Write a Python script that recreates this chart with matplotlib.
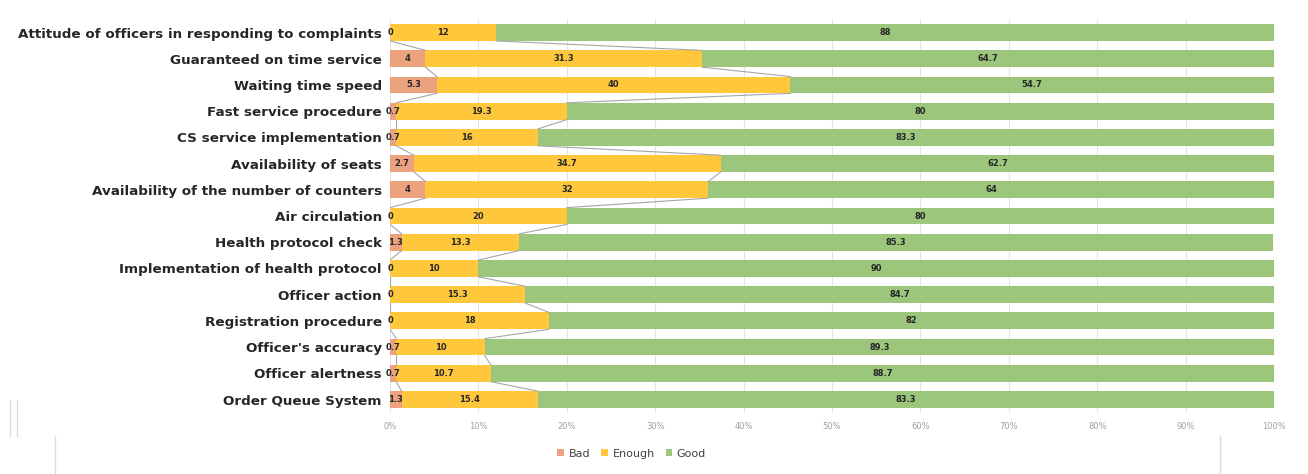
import numpy as np
import matplotlib
matplotlib.use('Agg')
import matplotlib.pyplot as plt
from matplotlib.lines import Line2D

items = [
    'Attitude of officers in responding to complaints',
    'Guaranteed on time service',
    'Waiting time speed',
    'Fast service procedure',
    'CS service implementation',
    'Availability of seats',
    'Availability of the number of counters',
    'Air circulation',
    'Health protocol check',
    'Implementation of health protocol',
    'Officer action',
    'Registration procedure',
    "Officer's accuracy",
    'Officer alertness',
    'Order Queue System',
]
bad = [0, 4, 5.3, 0.7, 0.7, 2.7, 4, 0, 1.3, 0, 0, 0, 0.7, 0.7, 1.3]
enough = [12, 31.3, 40, 19.3, 16, 34.7, 32, 20, 13.3, 10, 15.3, 18, 10, 10.7, 15.4]
good = [88, 64.7, 54.7, 80, 83.3, 62.7, 64, 80, 85.3, 90, 84.7, 82, 89.3, 88.7, 83.3]

series = ['Bad', 'Enough', 'Good']
colors = ['#EDA27F', '#FFC83C', '#9CC67B']

fig = plt.figure(figsize=(13.08, 4.74), dpi=100)
ax = fig.add_axes([0.2982, 0.1295, 0.6758, 0.8295])

y = np.arange(len(items))
h = 0.64
data = np.array([bad, enough, good])
left = np.zeros(len(items))
for vals, name, c in zip(data, series, colors):
    ax.barh(y, vals, left=left, height=h, color=c, label=name, zorder=2)
    for yi, (l, v) in enumerate(zip(left, vals)):
        ax.text(l + v / 2, yi, '{:g}'.format(v), ha='center', va='center',
                fontsize=6, fontweight='bold', color='#262626', zorder=4)
    left = left + vals

# series lines joining the segment ends of neighbouring bars
cum = np.cumsum(data, axis=0)
for k in range(2):
    for i in range(len(items) - 1):
        ax.plot([cum[k, i], cum[k, i + 1]], [i + h / 2, i + 1 - h / 2],
                color='#A6A6A6', lw=0.8, zorder=3)

ax.set_xlim(0, 100)
ax.set_ylim(len(items) - 0.5, -0.5)
ax.set_xticks(np.arange(0, 101, 10))
ax.set_xticklabels(['{}%'.format(t) for t in range(0, 101, 10)])
ax.set_yticks(y)
ax.set_yticklabels(items, fontsize=9.7, fontweight='bold', color='#262626')
ax.tick_params(axis='x', labelsize=6, colors='#A0A0A0', length=0, pad=7)
ax.tick_params(axis='y', length=0, pad=6)
ax.grid(axis='x', color='#E3E3E3', lw=0.8, zorder=0)
for s in ax.spines.values():
    s.set_visible(False)

ax.legend(loc='center', bbox_to_anchor=(0.483, 0.043), bbox_transform=fig.transFigure,
          ncol=3, frameon=False, fontsize=8, handlelength=0.6, handleheight=0.6,
          handletextpad=0.4, columnspacing=1.0, labelcolor='#404040')

# faint chart frame edges
for x0, y0, y1 in [(0.008, 0.08, 0.156), (0.013, 0.08, 0.156), (0.042, 0.0, 0.08), (0.933, 0.0, 0.08)]:
    fig.add_artist(Line2D([x0, x0], [y0, y1], transform=fig.transFigure, color='#DDDDDD', lw=1))

fig.savefig('out.png', dpi=100)
